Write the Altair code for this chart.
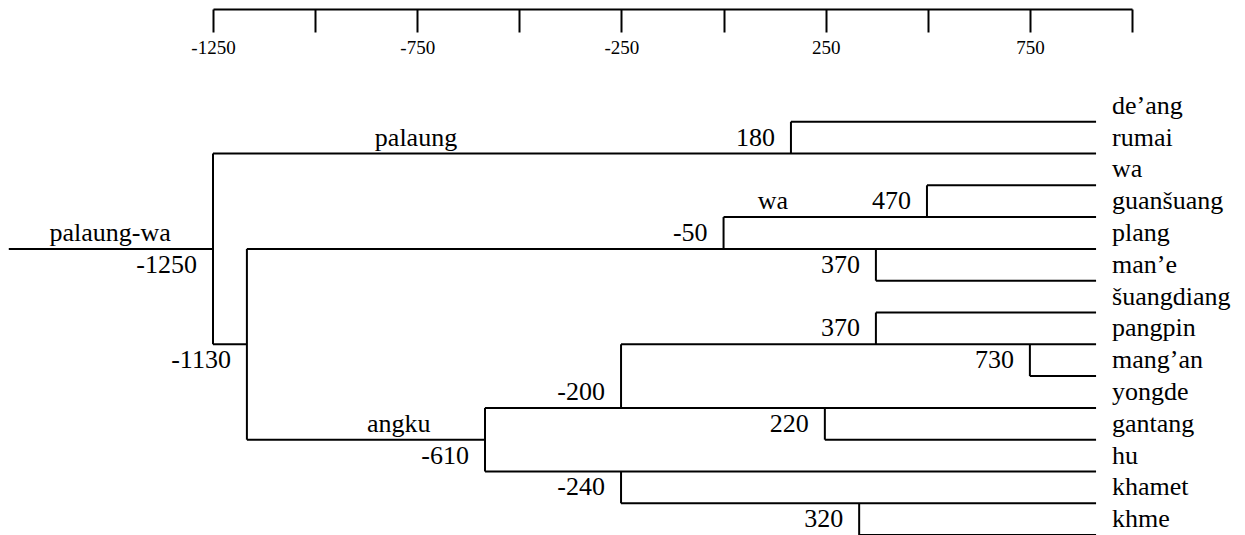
import altair as alt
import pandas as pd

# ---------------- data ----------------
# leaves, top to bottom; leaf k sits on horizontal line k (1..14)
leaves = ["de’ang", "rumai", "wa", "guanšuang", "plang", "man’e", "šuangdiang",
          "pangpin", "mang’an", "yongde", "gantang", "hu", "khamet", "khme"]

# internal nodes: printed label, drawn position on the time axis, lines spanned
node_ids    = ["root", "n180", "n1130", "n50", "n470", "n370a", "n610",
               "n200", "n370b", "n730", "n220", "n240", "n320"]
node_labels = ["-1250", "180", "-1130", "-50", "470", "370", "-610",
               "-200", "370", "730", "220", "-240", "320"]
node_pos    = [-1250, 165, -1167, 0, 498, 373, -584,
               -251, 373, 750, 248, -251, 332]
node_top    = [2, 1, 5, 4, 3, 5, 10, 8, 7, 8, 10, 12, 13]
node_bottom = [8, 2, 11, 5, 4, 6, 12, 10, 8, 9, 11, 13, 14]
label_row   = [5.5, 1.5, 8.5, 4.5, 3.5, 5.5, 11.5, 9.5, 7.5, 8.5, 10.5, 12.5, 13.5]

# node from which each leaf line starts
leaf_from = ["n180", "root", "n470", "n50", "n1130", "n370a", "n370b",
             "n200", "n730", "n610", "n220", "n610", "n240", "n320"]
tip_pos = 912          # right end of all leaf lines
stem_start = -1750     # left end of the root stem

# extra connecting branches (line, from, to)
branch_line = [5, 8, 11]
branch_from = ["stem", "root", "n1130"]
branch_to   = ["root", "n1130", "n610"]

# clade names
clades    = ["palaung-wa", "palaung", "wa", "angku"]
clade_pos = [-1502, -753, 121, -795]
clade_row = [4.5, 1.5, 3.5, 10.5]

# axis
tick_values  = [-1250, -1000, -750, -500, -250, 0, 250, 500, 750, 1000]
tick_labeled = [-1250, -750, -250, 250, 750]

# ---------------- build tables ----------------
pos = dict(zip(node_ids, node_pos))
pos["stem"] = stem_start

h_rows = []
for k, src in enumerate(leaf_from, start=1):
    h_rows.append({"x": pos[src], "x2": tip_pos, "y": k})
for ln, a, b in zip(branch_line, branch_from, branch_to):
    h_rows.append({"x": pos[a], "x2": pos[b], "y": ln})
hseg = pd.DataFrame(h_rows)

vseg = pd.DataFrame({"x": node_pos, "y": node_top, "y2": node_bottom})
nlab = pd.DataFrame({"x": node_pos, "y": label_row, "text": node_labels})
llab = pd.DataFrame({"x": [tip_pos] * len(leaves),
                     "y": [k - 0.5 for k in range(1, len(leaves) + 1)],
                     "text": leaves})
clab = pd.DataFrame({"x": clade_pos, "y": clade_row, "text": clades})

# ---------------- scales / axis ----------------
FONT = "Times New Roman, Liberation Serif, serif"
xscale = alt.Scale(domain=[-1250, 1000], range=[205, 1124], nice=False, zero=False)
yscale = alt.Scale(domain=[1, 13], range=[113.7, 495.3], nice=False, zero=False)
labeled_js = "[" + ",".join(str(v) for v in tick_labeled) + "]"
xaxis = alt.Axis(orient="bottom", offset=-526, values=tick_values,
                 labelExpr=f"indexof({labeled_js}, datum.value) >= 0 ? '' + datum.value : ''",
                 tickSize=23, tickWidth=2, tickColor="black",
                 domainColor="black", domainWidth=2,
                 labelFont=FONT, labelFontSize=19, labelColor="black",
                 labelBaseline="middle", labelPadding=15,
                 labelOverlap=False, labelFlush=False, grid=False, title=None)


def X(field="x"):
    return alt.X(f"{field}:Q", scale=xscale, axis=xaxis)


def Y(field="y"):
    return alt.Y(f"{field}:Q", scale=yscale, axis=None)


hl = alt.Chart(hseg).mark_rule(color="black", strokeWidth=2).encode(
    x=X(), x2="x2:Q", y=Y())
vl = alt.Chart(vseg).mark_rule(color="black", strokeWidth=2).encode(
    x=X(), y=Y(), y2="y2:Q")
nt = alt.Chart(nlab).mark_text(align="right", baseline="middle", dx=-16,
                               font="Liberation Serif", fontSize=26, color="black").encode(
    x=X(), y=Y(), text="text:N")
lt = alt.Chart(llab).mark_text(align="left", baseline="middle", dx=16,
                               font="Times New Roman", fontSize=26, color="black").encode(
    x=X(), y=Y(), text="text:N")
ct = alt.Chart(clab).mark_text(align="center", baseline="middle",
                               font="serif", fontSize=26, color="black").encode(
    x=X(), y=Y(), text="text:N")

chart = alt.layer(hl, vl, nt, lt, ct).properties(
    width=1229, height=527, padding=0,
    autosize=alt.AutoSizeParams(type="none"),
    background="white",
).configure_view(stroke=None).configure_text(font=FONT)

chart.save("out.html", embed_options={"renderer": "svg", "actions": False})
